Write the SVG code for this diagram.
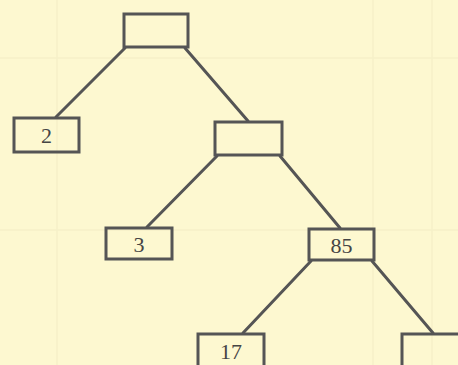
<svg xmlns="http://www.w3.org/2000/svg" width="458" height="365" viewBox="0 0 458 365">
<style>
.node rect{fill:none;stroke:#555;stroke-width:3}
.node text{font-family:"Liberation Serif","Times New Roman",serif;font-size:22px;fill:#454545;text-anchor:middle}
#edges line{stroke:#555;stroke-width:3;stroke-linecap:round}
.grid line{stroke:#f6f1c9;stroke-width:1.5}
</style>
<rect width="458" height="365" fill="#fdf8d0"/>
<g class="grid">
<line x1="57" y1="0" x2="57" y2="365"/><line x1="373" y1="0" x2="373" y2="365"/><line x1="432" y1="0" x2="432" y2="365"/>
<line x1="0" y1="58" x2="458" y2="58"/><line x1="0" y1="230" x2="458" y2="230"/>
</g>
<g id="edges">
<line x1="125" y1="48" x2="56" y2="117"/>
<line x1="185" y1="48" x2="248" y2="121"/>
<line x1="217" y1="156" x2="147" y2="227"/>
<line x1="280" y1="156" x2="340" y2="228"/>
<line x1="311" y1="261" x2="243" y2="333"/>
<line x1="372" y1="261" x2="433" y2="333"/>
</g>
<g id="root" class="node"><rect x="124" y="14" width="64" height="33"/></g>
<g id="n2" class="node"><rect x="14" y="118" width="65" height="34"/><text x="46.5" y="143">2</text></g>
<g id="inner" class="node"><rect x="215" y="122" width="67" height="33"/></g>
<g id="n3" class="node"><rect x="106" y="228" width="66" height="31"/><text x="139" y="252">3</text></g>
<g id="n85" class="node"><rect x="309" y="229" width="65" height="31"/><text x="341.5" y="253">85</text></g>
<g id="n17" class="node"><rect x="198" y="334" width="66" height="40"/><text x="231" y="359">17</text></g>
<g id="nr" class="node"><rect x="402" y="334" width="66" height="40"/></g>
</svg>
